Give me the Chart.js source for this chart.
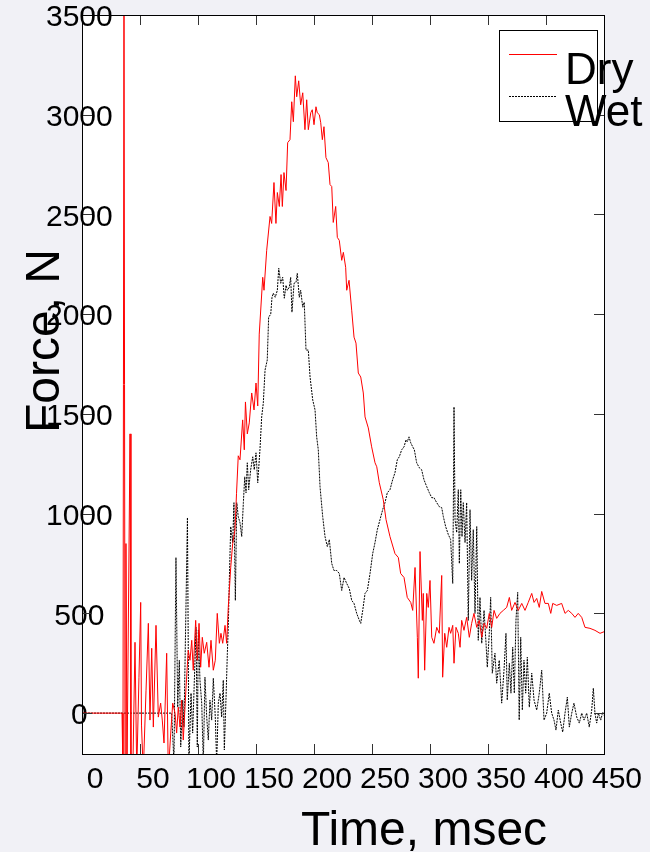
<!DOCTYPE html>
<html>
<head>
<meta charset="utf-8">
<title>Force vs time, dry and wet</title>
<script src="https://cdn.jsdelivr.net/npm/chart.js@4.4.1/dist/chart.umd.min.js"></script>
<style>
    html, body { margin: 0; padding: 0; background: #f1f1f6; }
    #wrap { width: 650px; height: 852px; }
</style>
</head>
<body>
<div id="wrap"><canvas id="chart" width="650" height="852"></canvas></div>
<script>
// values: time in msec, force in N
const dryTime = [
    0, 34.5, 35.3, 36.2, 37.1, 37.9, 38.8, 41.4, 42.2, 43.8, 45.7, 47.2, 49.1, 50.6, 51.3, 52.8,
    55.2, 57.2, 58.6, 60.1, 61.5, 63.8, 65.8, 67.8, 69.2, 70.7, 73.0, 74.4, 76.5, 78.2, 80.2, 81.6,
    83.0, 84.5, 85.9, 87.3, 89.7, 91.6, 93.1, 94.6, 95.9, 98.0, 99.4, 100.9, 102.3, 103.7, 105.4, 107.5,
    109.5, 111.2, 113.2, 114.9, 116.6, 118.4, 119.8, 121.3, 123.3, 124.7, 126.1, 128.2, 129.9, 131.9, 133.2, 134.7,
    136.2, 138.5, 139.9, 140.9, 142.5, 144.2, 146.3, 148.3, 150.0, 151.5, 152.8, 155.8, 156.9, 159.2, 162.1, 163.5,
    165.5, 167.2, 168.4, 170.1, 171.6, 172.7, 174.1, 175.9, 177.3, 179.3, 180.8, 182.2, 183.9, 185.1, 186.8, 188.5,
    190.3, 192.2, 193.7, 195.1, 197.2, 198.5, 200.0, 201.7, 202.8, 204.6, 205.8, 207.2, 208.6, 210.3, 212.3, 213.8,
    215.3, 216.6, 218.7, 220.1, 221.8, 223.9, 225.3, 227.3, 228.2, 230.2, 232.5, 234.5, 236.2, 238.2, 240.3, 242.5,
    244.0, 246.8, 249.7, 252.6, 254.1, 256.3, 259.7, 262.1, 265.5, 269.8, 272.7, 274.7, 277.6, 280.4, 283.4, 285.1,
    287.1, 289.1, 289.9, 291.4, 293.4, 294.2, 295.4, 297.2, 298.5, 300.0, 301.5, 303.4, 305.8, 308.0, 310.1, 310.9,
    312.7, 314.4, 316.4, 317.8, 319.6, 320.7, 322.4, 324.4, 325.9, 327.3, 329.3, 331.6, 333.9, 335.9, 337.9, 340.3,
    342.5, 344.6, 346.6, 348.9, 351.1, 353.2, 355.2, 357.5, 360.3, 363.2, 366.1, 368.4, 370.4, 373.3, 376.1, 379.1,
    381.9, 384.7, 387.7, 389.7, 392.0, 394.2, 396.3, 399.1, 402.0, 404.1, 405.8, 409.2, 413.5, 416.4, 419.2, 422.2,
    425.0, 427.8, 430.8, 433.6, 437.9, 442.2, 446.6, 450.9
]
const dryForce = [
    0, 0, -300, 3800, -300, 850, -300, 1400, -300, -300, 355, -300, 180, 555, -60, -300,
    115, 450, -35, 325, -70, 440, -20, 50, -35, -150, 300, -300, -100, 50, 0, -100,
    30, -70, 65, -135, 130, 315, 265, 365, 215, 465, 265, 450, 230, 380, 300, 355,
    230, 365, 215, 265, 500, 350, 400, 350, 440, 350, 530, 730, 850, 920, 1100, 1290,
    1270, 1470, 1320, 1560, 1400, 1455, 1605, 1520, 1655, 1540, 1900, 2185, 2120, 2320, 2490, 2455,
    2660, 2455, 2610, 2540, 2700, 2540, 2710, 2620, 2860, 2875, 3065, 2965, 3195, 3090, 3170, 3050,
    3110, 2925, 3075, 2925, 3010, 3025, 2950, 3040, 3010, 3000, 2960, 2875, 2940, 2785, 2760, 2650,
    2640, 2460, 2540, 2385, 2370, 2270, 2310, 2235, 2120, 2170, 2020, 1885, 1855, 1705, 1685, 1605,
    1485, 1430, 1335, 1255, 1235, 1155, 1070, 970, 885, 800, 780, 700, 680, 580, 555, 515,
    730, 380, 175, 810, 465, 600, 215, 600, 530, 665, 380, 350, 430, 400, 690, 180,
    400, 330, 430, 400, 440, 250, 430, 400, 330, 465, 415, 480, 380, 450, 500, 430,
    465, 380, 450, 425, 500, 430, 515, 475, 500, 515, 530, 580, 515, 555, 515, 550,
    515, 555, 600, 555, 575, 530, 610, 550, 550, 500, 550, 540, 550, 500, 515, 500,
    480, 500, 480, 430, 425, 415, 400, 410
]

const wetTime = [
    0, 77.3, 79.3, 81.0, 82.5, 83.9, 85.1, 86.8, 87.9, 90.9, 92.2, 94.0, 95.4, 97.4, 98.3, 99.4,
    100.3, 101.7, 103.2, 104.6, 106.0, 107.5, 108.9, 110.3, 111.8, 113.2, 114.9, 116.1, 117.5, 119.0, 120.4, 121.8,
    122.7, 124.1, 125.3, 126.1, 127.0, 128.2, 129.9, 131.0, 132.2, 133.4, 134.7, 136.2, 137.7, 139.1, 140.3, 141.4,
    142.5, 143.7, 145.4, 147.2, 148.5, 150.0, 151.5, 153.4, 154.9, 156.3, 157.8, 159.7, 160.9, 162.7, 163.8, 164.9,
    166.6, 168.4, 169.6, 171.3, 173.0, 174.4, 175.9, 177.0, 178.7, 179.9, 181.0, 182.8, 184.5, 185.6, 187.3, 188.5,
    190.3, 191.6, 193.1, 195.1, 196.6, 198.9, 200.9, 202.3, 203.7, 205.2, 207.5, 209.5, 211.5, 213.2, 215.3, 217.2,
    219.6, 221.8, 223.9, 225.9, 228.2, 230.4, 232.5, 234.5, 236.8, 239.1, 240.3, 242.0, 244.0, 246.0, 248.3, 250.6,
    252.6, 254.6, 256.9, 259.2, 261.2, 263.2, 265.5, 267.8, 269.8, 271.8, 273.5, 275.6, 277.6, 279.3, 280.4, 281.9,
    283.4, 285.1, 286.5, 288.5, 290.8, 292.8, 294.8, 297.2, 299.4, 301.5, 303.4, 305.8, 308.0, 310.1, 311.5, 313.5,
    315.8, 317.8, 319.6, 320.1, 320.7, 321.6, 323.0, 324.4, 325.3, 326.5, 327.6, 328.7, 330.2, 331.6, 333.0, 334.5,
    335.9, 337.3, 338.8, 340.3, 341.6, 343.1, 344.6, 346.6, 348.3, 349.4, 351.1, 352.3, 353.7, 356.0, 357.5, 359.7,
    361.8, 363.8, 365.5, 366.6, 368.4, 369.8, 371.3, 372.7, 374.1, 375.6, 376.9, 378.2, 379.6, 381.0, 382.5, 383.9,
    385.6, 387.7, 389.7, 392.0, 394.2, 396.3, 398.3, 400.6, 402.8, 404.9, 406.9, 408.6, 410.6, 412.7, 414.4, 416.4,
    418.4, 420.1, 422.2, 424.1, 426.5, 428.7, 430.8, 432.8, 435.1, 437.3, 439.4, 440.8, 442.2, 443.7, 445.1, 447.2,
    448.9, 450.9
]
const wetForce = [
    0, 0, -250, 780, 30, 265, -170, 65, -70, 980, -250, 100, -100, 265, 430, -170,
    415, 165, 50, -250, 180, -20, -135, 65, -35, 175, -20, -250, 50, 100, -20, 165,
    -185, 65, 300, 430, 665, 935, 855, 1055, 565, 1055, 985, 955, 885, 1055, 1185, 1105,
    1255, 1120, 1220, 1285, 1220, 1305, 1155, 1320, 1485, 1555, 1720, 1770, 1985, 2000, 2085, 2105,
    2085, 2120, 2230, 2155, 2185, 2080, 2145, 2120, 2135, 2185, 2010, 2155, 2160, 2205, 2085, 2120,
    2035, 2060, 1820, 1820, 1685, 1570, 1520, 1385, 1320, 1135, 985, 885, 835, 870, 750, 715,
    715, 700, 615, 680, 650, 625, 565, 550, 500, 465, 450, 515, 600, 615, 700, 800,
    855, 920, 970, 1020, 1055, 1105, 1120, 1170, 1205, 1270, 1285, 1320, 1335, 1370, 1360, 1385,
    1355, 1335, 1320, 1255, 1230, 1220, 1170, 1135, 1105, 1080, 1080, 1055, 1035, 1030, 985, 935,
    895, 870, 650, 1005, 1535, 970, 905, 1120, 750, 1120, 885, 1055, 855, 1055, 465, 1020,
    665, 920, 500, 935, 365, 580, 350, 515, 350, 230, 400, 580, 200, 300, 150, 265,
    50, 215, 400, 65, 250, 100, 330, 100, 465, 605, -35, 380, 15, 265, 100, 280,
    30, 200, 65, 15, 100, 215, -35, 0, 100, 0, -35, -85, 15, -50, -95, 0,
    80, -70, 0, 50, -20, -50, 0, -35, 0, -70, 15, 125, 0, -50, 0, -35,
    5, -20
]

const seriesNames = ['Dry', 'Wet']
const timeTicks = [0, 50, 100, 150, 200, 250, 300, 350, 400, 450]
const forceTicks = [0, 500, 1000, 1500, 2000, 2500, 3000, 3500]
const timeTitle = 'Time, msec'
const forceTitle = 'Force, N'

const fontFamily = '"Liberation Sans", Arial, sans-serif'
const dryColor = '#ff0000'
const wetColor = '#000000'
const wetDash = [2, 1]

const toPoints = (times, values) => times.map((t, i) => ({ x: t, y: values[i] }))

const backdrop = {
    id: 'backdrop',
    beforeDraw(chart) {
        const { ctx, chartArea: a } = chart
        ctx.save()
        ctx.fillStyle = '#f1f1f6'
        ctx.fillRect(0, 0, chart.width, chart.height)
        ctx.fillStyle = '#ffffff'
        ctx.fillRect(a.left, a.top, a.right - a.left, a.bottom - a.top)
        ctx.restore()
    }
}

// box round the plot, with short inward ticks on all four sides
const frame = {
    id: 'frame',
    afterDatasetsDraw(chart) {
        const { ctx, chartArea: a, scales } = chart
        const len = 10
        ctx.save()
        ctx.strokeStyle = '#333'
        ctx.lineWidth = 1
        ctx.beginPath()
        for (const tick of scales.x.ticks) {
            const px = Math.round(scales.x.getPixelForValue(tick.value)) + 0.5
            ctx.moveTo(px, a.top)
            ctx.lineTo(px, a.top + len)
            ctx.moveTo(px, a.bottom)
            ctx.lineTo(px, a.bottom - len)
        }
        for (const tick of scales.y.ticks) {
            const py = Math.round(scales.y.getPixelForValue(tick.value)) + 0.5
            ctx.moveTo(a.left, py)
            ctx.lineTo(a.left + len, py)
            ctx.moveTo(a.right, py)
            ctx.lineTo(a.right - len, py)
        }
        ctx.stroke()
        ctx.strokeStyle = '#000'
        ctx.strokeRect(Math.round(a.left) + 0.5, Math.round(a.top) + 0.5,
            Math.round(a.right - a.left), Math.round(a.bottom - a.top))
        ctx.restore()
    }
}

// axis titles and the boxed legend sit where the original figure put them
const labels = {
    id: 'labels',
    afterDraw(chart) {
        const { ctx, chartArea: a } = chart
        ctx.save()
        ctx.fillStyle = '#000'
        ctx.font = `48px ${fontFamily}`
        ctx.textBaseline = 'alphabetic'
        ctx.textAlign = 'center'
        ctx.fillText(timeTitle, a.left + 342, 845)

        ctx.translate(59, 341)
        ctx.rotate(-Math.PI / 2)
        ctx.fillText(forceTitle, 0, 0)
        ctx.restore()

        const boxLeft = a.right - 105
        const boxTop = a.top + 15
        ctx.save()
        ctx.fillStyle = '#fff'
        ctx.strokeStyle = '#000'
        ctx.lineWidth = 1
        ctx.fillRect(boxLeft + 0.5, boxTop + 0.5, 98, 91)
        ctx.strokeRect(boxLeft + 0.5, boxTop + 0.5, 98, 91)

        const rows = [
            { name: seriesNames[0], color: dryColor, dash: [], y: boxTop + 24 },
            { name: seriesNames[1], color: wetColor, dash: wetDash, y: boxTop + 66 }
        ]
        ctx.font = `44px ${fontFamily}`
        ctx.textAlign = 'left'
        for (const row of rows) {
            ctx.strokeStyle = row.color
            ctx.setLineDash(row.dash)
            ctx.beginPath()
            ctx.moveTo(boxLeft + 10, row.y + 0.5)
            ctx.lineTo(boxLeft + 58, row.y + 0.5)
            ctx.stroke()
            ctx.fillStyle = '#000'
            ctx.fillText(row.name, boxLeft + 66, row.y + 30)
        }
        ctx.restore()
    }
}

new Chart(document.getElementById('chart'), {
    type: 'line',
    data: {
        datasets: [
            {
                label: seriesNames[0],
                data: toPoints(dryTime, dryForce),
                borderColor: dryColor,
                borderWidth: 1,
                pointRadius: 0,
                tension: 0
            },
            {
                label: seriesNames[1],
                data: toPoints(wetTime, wetForce),
                borderColor: wetColor,
                borderWidth: 1,
                borderDash: wetDash,
                pointRadius: 0,
                tension: 0
            }
        ]
    },
    options: {
        responsive: false,
        animation: false,
        devicePixelRatio: 1,
        layout: { padding: { top: 15, right: 46, left: 0, bottom: 0 } },
        plugins: {
            legend: { display: false },
            tooltip: { enabled: false }
        },
        scales: {
            x: {
                type: 'linear',
                min: 0,
                max: 450,
                grid: { display: false, drawTicks: false },
                border: { display: false },
                afterBuildTicks: scale => { scale.ticks = timeTicks.map(value => ({ value })) },
                afterFit: scale => {
                    scale.height = 98
                    scale.paddingLeft = 0
                    scale.paddingRight = 0
                },
                ticks: {
                    autoSkip: false,
                    maxRotation: 0,
                    padding: 8,
                    labelOffset: 13,
                    color: '#000',
                    font: { family: fontFamily, size: 30 },
                    callback: value => String(value)
                }
            },
            y: {
                min: -205,
                max: 3500,
                grid: { display: false, drawTicks: false },
                border: { display: false },
                afterBuildTicks: scale => { scale.ticks = forceTicks.map(value => ({ value })) },
                afterFit: scale => {
                    scale.width = 82
                    scale.paddingTop = 0
                    scale.paddingBottom = 0
                },
                ticks: {
                    autoSkip: false,
                    mirror: true,
                    crossAlign: 'center',
                    padding: -36,
                    labelOffset: 3,
                    color: '#000',
                    font: { family: fontFamily, size: 30 },
                    callback: value => String(value)
                }
            }
        }
    },
    plugins: [backdrop, frame, labels]
})
</script>
</body>
</html>
